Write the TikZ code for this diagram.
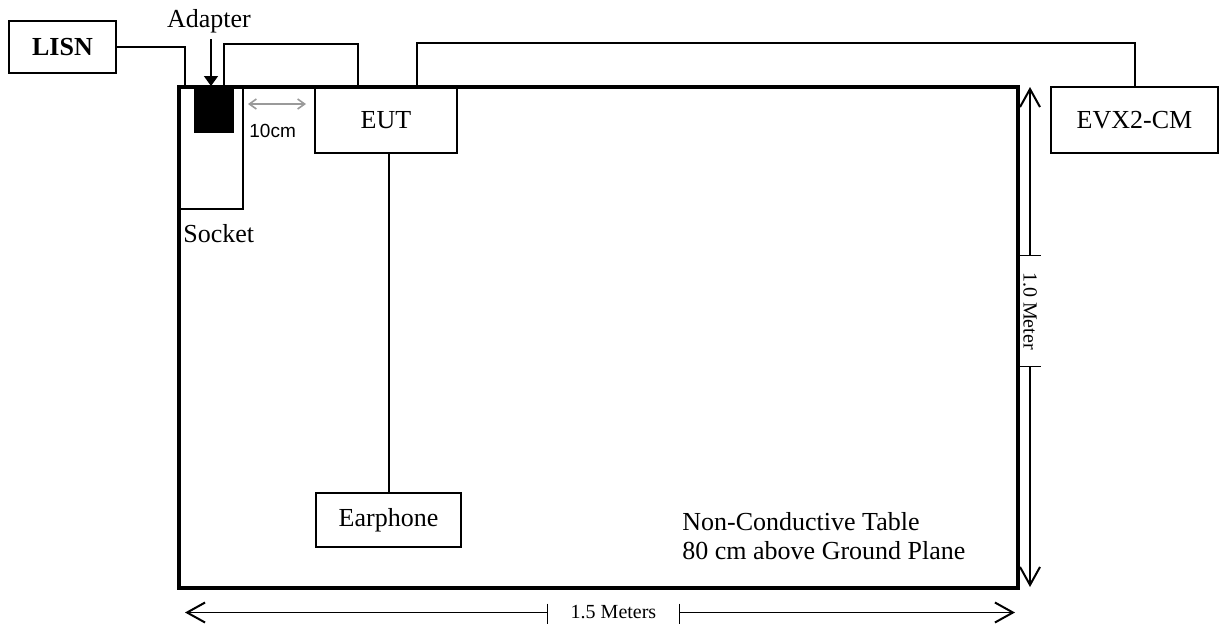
\documentclass[tikz,border=0pt]{standalone}
\usepackage{fontspec}
\setmainfont{Liberation Serif}
\newfontfamily\arialf{Liberation Sans}
\usepackage{tikz}
\usetikzlibrary{arrows.meta}
\definecolor{dimgr}{HTML}{9A9A9A}
\tikzset{fig/.style={line join=miter,>={Straight Barb[length=9pt,width=10pt,line width=1pt]}},
 box/.style={draw,line width=1pt,inner sep=0pt,font=\fontsize{13}{15}\selectfont},
 lbl/.style={inner sep=0pt,font=\fontsize{13}{15}\selectfont},
 wire/.style={line width=1pt},
 dimln/.style={line width=0.7pt},
 dimtxt/.style={inner sep=0pt,font=\fontsize{10}{12}\selectfont}}

\begin{document}
\begin{tikzpicture}[fig,x=0.5pt,y=-0.5pt]
 \useasboundingbox (0,0) rectangle (1220,623);
 % table, socket and adapter
 \node[draw,line width=1.6pt,inner sep=0pt,minimum width=419.5pt,minimum height=250.5pt](table) at (598.5,337.5){};
 \node[box,minimum width=32pt,minimum height=61pt](sock) at (211,148){};
 \node[box,fill=black,minimum width=19pt,minimum height=22.5pt](adpt) at (214,109.5){};
 % boxes
 \node[box,font=\fontsize{13}{15}\selectfont\bfseries,minimum width=53.5pt,minimum height=26pt](lisn) at (62.5,47){LISN};
 \node[box,minimum width=71pt,minimum height=33pt](eut) at (386,120){EUT};
 \node[box,minimum width=83.5pt,minimum height=33pt](evx) at (1134.5,120){EVX2-CM};
 \node[box,minimum width=72.5pt,minimum height=27pt](ear) at (388.5,520){Earphone};
 % labels
 \node[lbl,anchor=base](adlab) at (209,27){Adapter};
 \node[lbl,anchor=base west](socklab) at (183,242){Socket};
 \node[inner sep=0pt,anchor=base west,font=\arialf\fontsize{9.5}{11}\selectfont](cmlab) at (249,137){10cm};
 \node[lbl,anchor=base west](note1) at (682,530){Non-Conductive Table};
 \node[lbl,anchor=base west](note2) at (682,559){80 cm above Ground Plane};
 % cables
 \draw[wire] (lisn.east) -| ([xshift=3.5pt]sock.north west);
 \draw[wire] ([xshift=-5pt]adpt.north east) -- ++(0,-42) -| ([xshift=22pt]eut.north west);
 \draw[wire] ([xshift=51.5pt]eut.north west) -- ++(0,-43) -| (evx.north);
 \draw[wire] (ear.north |- eut.south) -- (ear.north);
 \draw[line width=0.8pt,-{Triangle[length=5pt,width=7pt]}] ([xshift=1pt,yshift=-3.2pt]adlab.south) -- ([xshift=-1.5pt]adpt.north);
 \draw[line width=0.8pt,dimgr,{Straight Barb[length=3.5pt,width=5pt]}-{Straight Barb[length=3.5pt,width=5pt]}]
   ([xshift=2pt,yshift=-9pt]sock.north east) -- ([xshift=-4pt,yshift=-9pt]eut.north west);
 % dimensions
 \coordinate (vtop) at (1030,87);
 \coordinate (vbot) at (1030,587);
 \node[dimtxt,rotate=-90,minimum width=55pt](vlab) at (1030,311){1.0 Meter};
 \draw[dimln,->] (vlab.west) -- (vtop);
 \draw[dimln,->] (vlab.east) -- (vbot);
 \draw[dimln] ([xshift=-5pt]vlab.west) -- ([xshift=5.5pt]vlab.west);
 \draw[dimln] ([xshift=-5pt]vlab.east) -- ([xshift=5.5pt]vlab.east);
 \coordinate (hleft) at (185,612.5);
 \coordinate (hright) at (1015,612.5);
 \node[dimtxt,minimum width=65.5pt](hlab) at (613.5,612.5){1.5 Meters};
 \draw[dimln,->] (hlab.west) -- (hleft);
 \draw[dimln,->] (hlab.east) -- (hright);
 \draw[dimln] ([yshift=4.5pt]hlab.west) -- ([yshift=-5.5pt]hlab.west);
 \draw[dimln] ([yshift=4.5pt]hlab.east) -- ([yshift=-5.5pt]hlab.east);
\end{tikzpicture}
\end{document}
